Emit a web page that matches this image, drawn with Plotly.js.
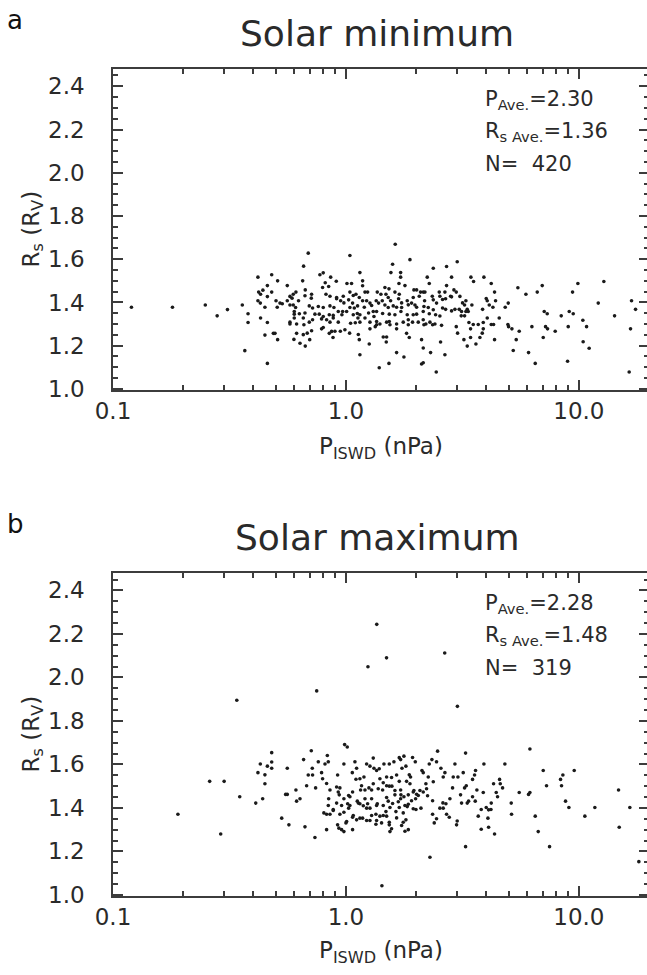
<!DOCTYPE html>
<html><head><meta charset="utf-8">
<script src="https://cdn.plot.ly/plotly-3.0.1.min.js"></script>
<style>html,body{margin:0;padding:0;overflow:hidden;background:#fff}#chart{width:649px;height:975px}</style>
</head><body><div id="chart"></div>
<script>
// Panel a: Solar minimum — P_ISWD (nPa) and R_s (R_V)
const minP = [
0.12,0.18,0.249,0.28,0.31,0.359,0.38,0.38,0.368,0.419,0.422,0.43,0.44,0.46,0.46,0.419,0.429,0.449,0.43,0.46,0.449,0.46,
1.628,0.689,1.040,1.883,0.658,1.586,2.704,2.371,1.148,1.560,
1.717,1.717,2.234,2.841,0.480,0.773,0.799,0.860,0.652,0.509,
1.179,0.815,1.689,1.792,1.010,1.057,2.279,2.704,0.794,0.843,
0.909,1.179,1.470,1.530,2.908,0.480,0.669,0.560,1.958,2.011,
2.183,2.515,1.040,1.104,1.207,1.239,1.363,1.413,1.623,1.694,
2.091,2.147,2.660,0.594,0.610,0.667,0.712,0.821,0.854,0.912,
0.974,1.075,1.141,1.485,1.519,1.945,2.064,2.348,2.531,2.814,
0.575,0.587,0.710,0.501,0.521,0.533,0.560,0.575,0.594,0.626,
0.912,0.949,0.980,1.027,1.068,1.179,1.227,1.268,1.349,1.432,
1.555,1.683,1.734,1.833,1.913,1.978,2.176,2.371,2.449,2.599,
2.678,2.841,0.507,0.608,0.696,0.719,0.761,0.799,0.854,0.888,
0.927,0.968,1.007,1.040,1.086,1.122,1.199,1.289,1.381,1.470,
1.519,1.596,1.650,1.734,1.852,2.011,2.162,2.256,2.371,2.599,
2.678,2.841,0.600,0.600,0.631,0.667,0.736,0.768,0.799,0.848,
0.882,0.961,1.075,1.119,1.148,1.251,1.310,1.354,1.437,1.535,
1.623,1.722,1.833,1.945,2.011,2.147,2.279,2.426,2.531,
0.575,0.600,0.656,0.696,0.719,0.786,0.826,0.854,0.882,0.927,
1.047,1.097,1.126,1.148,1.207,1.268,1.319,1.354,1.399,1.495,
1.535,1.650,1.762,1.852,1.932,2.044,2.147,2.204,2.294,2.410,
2.573,0.488,0.496,0.575,0.614,0.660,0.786,0.799,0.868,0.897,
0.946,0.990,1.037,1.268,1.336,1.354,1.545,1.650,1.852,2.162,
2.355,0.614,0.656,0.682,0.712,0.848,0.880,1.130,1.446,1.495,
1.821,1.870,2.112,0.509,0.598,0.635,0.669,0.699,1.141,1.259,
1.490,2.147,2.309,2.548,1.148,1.650,1.774,2.660,2.112,2.147,
1.530,1.390,2.442,
3.004,3.440,3.911,3.531,4.205,2.976,3.085,3.273,3.167,3.231,
3.473,4.345,4.002,4.042,4.389,2.937,3.064,3.136,3.317,3.350,
3.273,3.126,3.231,3.861,4.123,4.275,4.828,4.974,5.472,5.924,
6.626,6.961,4.550,4.042,3.886,3.698,3.520,3.373,4.205,4.303,
4.958,4.991,5.158,5.545,2.976,3.015,3.428,3.886,3.848,3.760,
3.428,3.210,3.317,3.614,4.345,5.383,5.227,6.081,6.496,6.285,
7.194,7.337,7.913,7.030,7.100,7.313,8.400,9.090,9.456,9.902,
9.394,12.80,12.11,14.23,10.40,10.79,9.000,10.43,11.07,8.942,
16.44,16.83,17.51,16.66
];
const minR = [
1.378,1.378,1.388,1.338,1.367,1.388,1.348,1.307,1.177,1.517,1.448,1.438,1.457,1.478,1.427,1.408,1.397,1.378,1.328,1.307,1.249,1.118,
1.669,1.628,1.617,1.598,1.568,1.577,1.566,1.558,1.538,1.538,
1.538,1.517,1.517,1.517,1.528,1.528,1.537,1.517,1.500,1.500,
1.500,1.491,1.488,1.478,1.488,1.488,1.488,1.478,1.469,1.474,
1.498,1.477,1.469,1.463,1.458,1.448,1.458,1.478,1.458,1.458,
1.448,1.448,1.448,1.438,1.448,1.448,1.448,1.438,1.448,1.438,
1.448,1.448,1.448,1.438,1.448,1.431,1.438,1.438,1.429,1.423,
1.429,1.432,1.423,1.438,1.423,1.423,1.429,1.429,1.429,1.429,
1.428,1.420,1.420,1.408,1.397,1.394,1.408,1.388,1.388,1.408,
1.417,1.408,1.398,1.412,1.397,1.408,1.408,1.397,1.408,1.408,
1.408,1.417,1.398,1.408,1.397,1.388,1.408,1.412,1.397,1.414,
1.417,1.426,1.378,1.377,1.384,1.374,1.381,1.377,1.384,1.377,
1.358,1.358,1.358,1.377,1.374,1.384,1.378,1.386,1.397,1.388,
1.377,1.384,1.378,1.377,1.389,1.378,1.381,1.377,1.366,1.374,
1.368,1.361,1.358,1.346,1.348,1.351,1.346,1.346,1.335,1.343,
1.340,1.343,1.343,1.349,1.343,1.351,1.358,1.358,1.349,1.346,
1.343,1.358,1.343,1.343,1.346,1.358,1.348,1.343,1.337,
1.309,1.328,1.328,1.309,1.320,1.324,1.320,1.309,1.328,1.309,
1.304,1.306,1.328,1.309,1.328,1.309,1.335,1.312,1.300,1.309,
1.312,1.300,1.309,1.320,1.309,1.309,1.320,1.300,1.309,1.300,
1.294,1.257,1.257,1.300,1.300,1.297,1.278,1.284,1.266,1.267,
1.267,1.274,1.258,1.278,1.288,1.297,1.297,1.278,1.297,1.297,
1.297,1.257,1.251,1.258,1.269,1.257,1.238,1.252,1.240,1.240,
1.257,1.238,1.228,1.228,1.229,1.211,1.198,1.228,1.228,1.208,
1.217,1.189,1.168,1.217,1.158,1.168,1.148,1.158,1.115,1.121,
1.118,1.098,1.078,
1.588,1.517,1.517,1.497,1.488,1.448,1.428,1.408,1.398,1.388,
1.388,1.448,1.418,1.408,1.408,1.368,1.368,1.358,1.368,1.358,
1.358,1.338,1.338,1.368,1.388,1.378,1.378,1.397,1.468,1.438,
1.448,1.478,1.328,1.328,1.307,1.298,1.298,1.307,1.298,1.298,
1.298,1.288,1.278,1.267,1.288,1.258,1.278,1.278,1.258,1.238,
1.238,1.228,1.198,1.208,1.228,1.228,1.178,1.168,1.118,1.288,
1.288,1.278,1.267,1.238,1.358,1.348,1.338,1.358,1.348,1.488,
1.448,1.497,1.397,1.338,1.318,1.288,1.288,1.218,1.188,1.128,
1.078,1.408,1.368,1.278
];
// Panel b: Solar maximum
const maxP = [
0.190,0.260,0.300,0.290,0.350,0.410,0.439,0.419,0.429,0.449,0.449,0.460,
0.987,1.013,0.480,0.710,0.658,0.560,0.480,0.480,0.832,0.761,
0.813,0.840,0.717,0.689,0.719,0.786,0.794,0.980,0.921,1.093,
1.065,1.111,1.227,1.268,1.310,1.319,1.354,1.390,1.456,1.535,
1.607,1.694,1.774,1.717,1.809,1.740,1.932,1.985,2.120,2.279,
2.339,2.449,2.474,2.557,2.660,2.616,2.888,2.147,2.256,1.894,
1.870,1.821,1.650,1.694,1.570,1.495,1.446,1.399,1.310,1.167,
1.104,1.148,1.195,1.883,1.958,2.078,2.204,2.219,2.371,2.869,
0.610,0.551,0.560,0.678,0.741,0.826,0.854,0.912,0.927,0.942,
0.936,0.980,1.027,1.040,1.068,1.156,1.207,1.255,1.289,1.376,
1.437,1.495,1.535,1.575,1.623,1.717,1.722,1.774,1.852,1.945,
2.011,2.044,2.147,2.241,2.355,2.795,0.614,0.635,0.843,0.840,
0.912,0.958,1.040,1.017,1.119,1.148,1.207,1.239,1.289,1.354,
1.446,1.495,1.519,1.586,1.623,1.678,1.717,1.792,1.852,1.913,
1.991,2.099,1.998,1.945,1.833,1.694,1.545,1.363,1.268,1.227,
1.187,1.130,0.882,0.804,0.826,0.854,0.882,0.942,0.980,1.075,
1.111,1.148,1.179,1.227,1.268,1.345,1.399,1.446,1.495,1.485,
1.639,1.762,1.809,1.762,1.650,1.535,1.422,1.345,1.289,1.027,
1.007,1.000,0.921,0.933,0.958,0.980,1.068,1.068,0.826,0.667,
0.569,0.530,0.736,1.545,1.570,1.734,1.792,1.852,1.535,1.354,
2.355,2.531,2.616,2.704,2.777,2.394,2.449,2.608,2.687,2.294,
1.427,
3.263,6.163,2.937,3.911,4.812,3.188,3.601,3.566,3.025,3.496,
7.030,9.550,8.537,8.342,8.425,7.265,3.231,3.285,4.303,4.566,
4.597,4.704,3.649,3.886,4.418,4.476,5.545,6.081,6.163,3.105,
3.496,3.590,3.361,3.317,3.136,4.205,4.002,4.097,4.193,3.809,
5.124,8.766,9.060,11.71,16.55,14.80,3.004,2.985,3.698,4.070,
5.140,6.496,10.61,3.809,4.097,4.345,6.691,14.90,3.263,7.483,
18.09,
0.340,0.749,1.243,1.356,1.494,2.655,3.01
];
const maxR = [
1.371,1.522,1.522,1.280,1.451,1.422,1.442,1.562,1.602,1.552,1.511,1.592,
1.691,1.680,1.654,1.663,1.622,1.582,1.611,1.582,1.641,1.612,
1.602,1.612,1.582,1.551,1.551,1.562,1.534,1.602,1.551,1.612,
1.562,1.582,1.602,1.592,1.629,1.582,1.572,1.580,1.602,1.602,
1.612,1.631,1.638,1.622,1.592,1.582,1.632,1.612,1.572,1.602,
1.622,1.612,1.661,1.582,1.562,1.542,1.542,1.562,1.542,1.542,
1.552,1.522,1.551,1.522,1.540,1.542,1.516,1.534,1.511,1.502,
1.532,1.534,1.542,1.511,1.480,1.480,1.511,1.488,1.520,1.492,
1.482,1.462,1.462,1.502,1.492,1.512,1.482,1.496,1.473,1.492,
1.460,1.442,1.457,1.451,1.473,1.482,1.482,1.492,1.482,1.488,
1.482,1.502,1.500,1.500,1.480,1.482,1.460,1.451,1.460,1.473,
1.463,1.457,1.473,1.456,1.433,1.442,1.431,1.442,1.442,1.411,
1.422,1.411,1.411,1.419,1.431,1.419,1.442,1.419,1.442,1.411,
1.411,1.448,1.431,1.420,1.460,1.428,1.442,1.411,1.417,1.433,
1.442,1.399,1.393,1.396,1.406,1.402,1.402,1.419,1.399,1.399,
1.410,1.422,1.393,1.377,1.371,1.371,1.388,1.371,1.380,1.365,
1.345,1.353,1.353,1.342,1.342,1.371,1.362,1.365,1.362,1.383,
1.383,1.377,1.345,1.334,1.354,1.334,1.331,1.325,1.365,1.399,
1.337,1.331,1.322,1.307,1.300,1.291,1.300,1.357,1.300,1.313,
1.322,1.353,1.264,1.291,1.304,1.319,1.293,1.300,1.322,1.342,
1.371,1.399,1.399,1.371,1.357,1.331,1.350,1.423,1.419,1.173,
1.042,
1.652,1.671,1.602,1.602,1.602,1.562,1.572,1.551,1.542,1.531,
1.572,1.572,1.551,1.531,1.502,1.502,1.492,1.502,1.511,1.531,
1.511,1.492,1.482,1.471,1.471,1.451,1.471,1.462,1.471,1.460,
1.451,1.431,1.431,1.422,1.422,1.422,1.402,1.391,1.393,1.393,
1.422,1.431,1.402,1.402,1.402,1.482,1.340,1.322,1.362,1.353,
1.371,1.362,1.362,1.302,1.311,1.280,1.291,1.311,1.222,1.222,
1.153,
1.895,1.938,2.049,2.244,2.090,2.112,1.867
];
const panelTitles = ['Solar minimum', 'Solar maximum'];
const panelLetters = ['a', 'b'];
const statLines = [
  ['P<sub>Ave.</sub>=2.30', 'R<sub>s Ave.</sub>=1.36', 'N=\u00a0\u00a0420'],
  ['P<sub>Ave.</sub>=2.28', 'R<sub>s Ave.</sub>=1.48', 'N=\u00a0\u00a0319']
];
const xTickVals = [0.1, 1, 10];
const xTickText = ['0.1', '1.0', '10.0'];
const xMinorVals = [0.2,0.3,0.4,0.5,0.6,0.7,0.8,0.9,2,3,4,5,6,7,8,9,20];
const yTickVals = [1.0, 1.2, 1.4, 1.6, 1.8, 2.0, 2.2, 2.4];
const yTickText = ['1.0', '1.2', '1.4', '1.6', '1.8', '2.0', '2.2', '2.4'];
const xTitle = 'P<sub>ISWD</sub> (nPa)';
const yTitle = 'R<sub>s</sub> (R<sub>V</sub>)';

const FONT = 'DejaVu Sans';
const TXT = '#2a2a2a';
const AX = '#3c3c3c';
const W = 649, H = 975, L = 113;
const fx = x => (x - L) / (W - L);
const fy = y => 1 - y / H;
const tops = [69, 573], bots = [390, 896];
const PAD = '\u00a0\u00a0\u00a0';

function xa(anchor) {
  return {
    type: 'log', range: [-1, Math.log10(20)], domain: [0, 1], anchor: anchor,
    tickmode: 'array', tickvals: xTickVals, ticktext: xTickText,
    ticks: 'inside', ticklen: 10, tickwidth: 2, tickcolor: AX,
    showline: true, linecolor: AX, linewidth: 1.6, mirror: 'allticks',
    showgrid: false, zeroline: false,
    tickfont: {family: FONT, size: 23, color: TXT},
    minor: {tickmode: 'array', tickvals: xMinorVals, ticks: 'inside', ticklen: 5, tickwidth: 1.5, tickcolor: AX, showgrid: false}
  };
}
function ya(anchor, i) {
  return {
    range: [0.995, 2.48], domain: [fy(bots[i]), fy(tops[i])], anchor: anchor,
    tickmode: 'array', tickvals: yTickVals, ticktext: yTickText.map(t => t + PAD),
    ticks: 'inside', ticklen: 10, tickwidth: 2, tickcolor: AX,
    showline: true, linecolor: AX, linewidth: 1.6, mirror: 'allticks',
    showgrid: false, zeroline: false,
    tickfont: {family: FONT, size: 23, color: TXT},
    minor: {dtick: 0.05, tick0: 1.0, ticks: 'inside', ticklen: 5, tickwidth: 1.5, tickcolor: AX, showgrid: false}
  };
}
const mk = {size: 3.6, color: '#1a1a1a', line: {width: 0}};
const data = [
  {type: 'scatter', mode: 'markers', x: minP, y: minR, xaxis: 'x', yaxis: 'y', marker: mk, hoverinfo: 'x+y'},
  {type: 'scatter', mode: 'markers', x: maxP, y: maxR, xaxis: 'x2', yaxis: 'y2', marker: mk, hoverinfo: 'x+y'}
];
function ann(text, x, y, size, extra) {
  return Object.assign({text: text, xref: 'paper', yref: 'paper', x: fx(x), y: fy(y),
    xanchor: 'center', yanchor: 'middle', showarrow: false,
    font: {family: FONT, size: size, color: TXT}}, extra || {});
}
const annotations = [];
[0, 1].forEach(i => {
  const off = i === 0 ? 0 : 504;
  annotations.push(ann(panelLetters[i], 15, 20 + off, 26, {font: {family: FONT, size: 26, color: '#111'}}));
  annotations.push(ann(panelTitles[i], 377, 33 + off, 36));
  statLines[i].forEach((t, k) => annotations.push(ann(t, 483, 100 + off + k * 32, 21, {xanchor: 'left'})));
  annotations.push(ann(xTitle, 381, 448 + off, 23));
  annotations.push(ann(yTitle, 32, (tops[i] + bots[i]) / 2, 23, {textangle: -90}));
});
const layout = {
  width: W, height: H, margin: {l: L, r: 0, t: 0, b: 0},
  paper_bgcolor: '#fff', plot_bgcolor: '#fff', showlegend: false,
  xaxis: xa('y'), yaxis: ya('x', 0), xaxis2: xa('y2'), yaxis2: ya('x2', 1),
  annotations: annotations, font: {family: FONT, color: TXT}
};
Plotly.newPlot('chart', data, layout, {displayModeBar: false});
</script></body></html>
